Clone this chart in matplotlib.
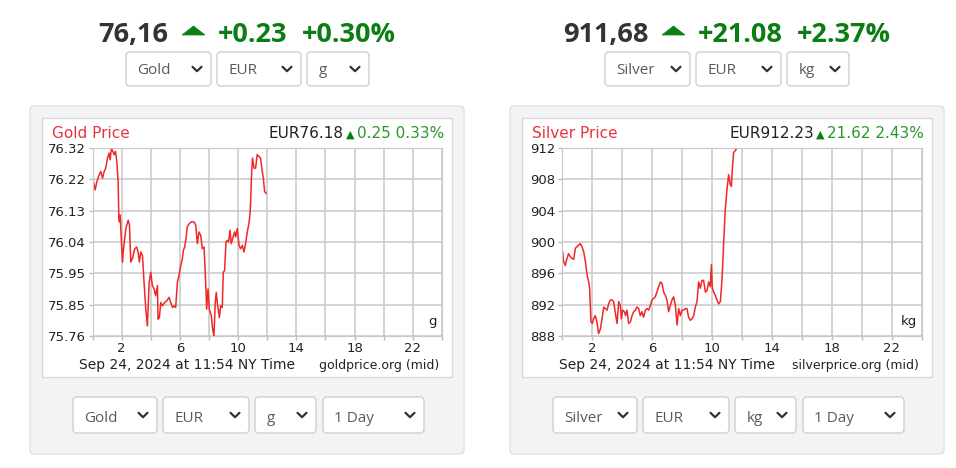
import numpy as np
import matplotlib
matplotlib.use("Agg")
import matplotlib.pyplot as plt
from matplotlib.patches import FancyBboxPatch, Rectangle, Polygon

# --- data ---
gold_hours = [0.07, 0.18, 0.30, 0.46, 0.57, 0.69, 0.80, 0.91, 1.03, 1.14, 1.21, 1.30, 1.39, 1.49,
              1.58, 1.67, 1.76, 1.81, 1.85, 1.90, 1.99, 2.06, 2.13, 2.29, 2.45, 2.54, 2.63, 2.74,
              2.90, 3.04, 3.13, 3.22, 3.31, 3.43, 3.54, 3.66, 3.77, 3.89, 4.00, 4.11, 4.23, 4.34,
              4.46, 4.50, 4.59, 4.69, 4.80, 4.96, 5.10, 5.26, 5.37, 5.49, 5.60, 5.71, 5.83, 5.94,
              6.06, 6.17, 6.24, 6.33, 6.42, 6.51, 6.65, 6.79, 6.97, 7.09, 7.20, 7.31, 7.43, 7.54,
              7.66, 7.77, 7.84, 7.93, 8.02, 8.16, 8.25, 8.34, 8.43, 8.50, 8.57, 8.71, 8.80, 8.91,
              8.98, 9.07, 9.17, 9.26, 9.35, 9.44, 9.53, 9.62, 9.76, 9.83, 9.94, 10.06, 10.17, 10.29,
              10.40, 10.51, 10.63, 10.74, 10.81, 10.86, 10.93, 10.99, 11.09, 11.20, 11.31, 11.43,
              11.54, 11.66, 11.73, 11.82, 11.93]
gold_prices = [76.22, 76.195, 76.22, 76.24, 76.25, 76.23, 76.25, 76.26, 76.29, 76.305, 76.285, 76.32,
               76.31, 76.30, 76.31, 76.28, 76.22, 76.11, 76.10, 76.12, 76.04, 75.98, 76.02, 76.08,
               76.105, 76.09, 75.98, 75.99, 76.02, 76.025, 76.01, 75.98, 76.01, 76.00, 75.92, 75.84,
               75.79, 75.92, 75.95, 75.91, 75.90, 75.88, 75.91, 75.81, 75.815, 75.86, 75.85, 75.86,
               75.865, 75.875, 75.86, 75.845, 75.85, 75.845, 75.92, 75.94, 75.97, 75.99, 76.015,
               76.025, 76.05, 76.085, 76.095, 76.10, 76.10, 76.09, 76.035, 76.07, 76.06, 76.02,
               76.025, 75.92, 75.84, 75.90, 75.84, 75.82, 75.78, 75.76, 75.86, 75.89, 75.86, 75.815,
               75.85, 75.845, 75.95, 75.955, 76.04, 76.045, 76.04, 76.075, 76.035, 76.05, 76.07,
               76.055, 76.08, 76.03, 76.02, 76.03, 76.01, 76.035, 76.07, 76.095, 76.12, 76.16, 76.25,
               76.29, 76.26, 76.26, 76.30, 76.295, 76.29, 76.25, 76.23, 76.19, 76.185]

silver_hours = [0.04, 0.11, 0.22, 0.33, 0.44, 0.56, 0.67, 0.78, 0.89, 1.00, 1.11, 1.22, 1.33, 1.44,
                1.56, 1.67, 1.78, 1.84, 1.93, 2.02, 2.11, 2.22, 2.33, 2.44, 2.56, 2.67, 2.78, 2.89,
                3.00, 3.11, 3.22, 3.33, 3.44, 3.56, 3.67, 3.78, 3.89, 3.96, 4.04, 4.16, 4.24, 4.33,
                4.44, 4.56, 4.67, 4.78, 4.89, 5.00, 5.11, 5.22, 5.33, 5.44, 5.56, 5.67, 5.78, 5.89,
                6.00, 6.11, 6.22, 6.33, 6.44, 6.56, 6.67, 6.78, 6.89, 7.00, 7.11, 7.22, 7.33, 7.44,
                7.56, 7.67, 7.78, 7.89, 8.00, 8.11, 8.22, 8.33, 8.44, 8.56, 8.67, 8.78, 8.89, 9.00,
                9.11, 9.22, 9.33, 9.44, 9.56, 9.67, 9.78, 9.89, 9.96, 10.02, 10.11, 10.22, 10.33,
                10.44, 10.56, 10.67, 10.78, 10.89, 11.00, 11.11, 11.22, 11.29, 11.36, 11.44, 11.56,
                11.67, 11.78]
silver_prices = [898.8, 897.5, 897.0, 897.9, 898.5, 898.1, 897.9, 897.8, 899.2, 899.4, 899.6, 899.8,
                 899.4, 898.8, 897.5, 895.8, 894.9, 894.1, 889.8, 889.6, 890.2, 890.6, 889.8, 888.3,
                 888.9, 890.2, 891.7, 891.5, 891.3, 892.1, 892.6, 892.6, 892.4, 890.9, 889.6, 892.4,
                 891.9, 890.2, 891.3, 891.1, 890.6, 891.3, 889.6, 889.8, 890.6, 891.1, 891.3, 891.7,
                 891.5, 890.6, 891.1, 890.4, 891.3, 891.5, 891.3, 891.9, 892.6, 892.8, 893.0, 893.6,
                 894.3, 894.9, 894.7, 893.6, 893.2, 892.6, 891.1, 891.9, 892.6, 893.0, 891.9, 889.4,
                 891.5, 890.6, 891.3, 891.3, 891.5, 891.5, 890.4, 890.0, 890.2, 890.6, 891.7, 892.4,
                 894.9, 894.1, 895.1, 895.1, 893.6, 893.8, 894.9, 894.3, 897.1, 894.1, 893.6, 893.2,
                 892.6, 892.1, 892.4, 895.3, 900.0, 904.3, 906.7, 908.6, 907.3, 907.1, 909.4, 911.4,
                 911.7, 912.0, 912.1]

gold_yticks = ["76.32", "76.22", "76.13", "76.04", "75.95", "75.85", "75.76"]
silver_yticks = ["912", "908", "904", "900", "896", "892", "888"]
x_ticklabels = ["", "2", "", "6", "", "10", "", "14", "", "18", "", "22", ""]

gold_header = ["76,16", "+0.23", "+0.30%"]
silver_header = ["911,68", "+21.08", "+2.37%"]
gold_chart_head = ["EUR76.18", "0.25 0.33%"]
silver_chart_head = ["EUR912.23", "21.62 2.43%"]
gold_top_select = ["Gold", "EUR", "g"]
silver_top_select = ["Silver", "EUR", "kg"]
gold_bottom_select = ["Gold", "EUR", "g", "1 Day"]
silver_bottom_select = ["Silver", "EUR", "kg", "1 Day"]

W, H = 956, 468
GREEN = "#0b7d12"
RED = "#f02828"

fig = plt.figure(figsize=(W / 100, H / 100), dpi=100)
bg = fig.add_axes([0, 0, 1, 1])
bg.set_xlim(0, W)
bg.set_ylim(H, 0)
bg.axis("off")


def px_axes(l, t, r, b):
    return fig.add_axes([l / W, 1 - b / H, (r - l) / W, (b - t) / H])


def select_box(x0, x1, y0, y1, label):
    bg.add_patch(FancyBboxPatch((x0, y0), x1 - x0, y1 - y0,
                                boxstyle="round,pad=0,rounding_size=4",
                                fc="white", ec="#cfcfcf", lw=1))
    bg.text(x0 + 11.5, y1 - 11.5, label, fontsize=11, family="Open Sans",
            color="#5a5a5a", ha="left", va="baseline")
    cx, cy = x1 - 14, (y0 + y1) / 2
    bg.plot([cx - 4.5, cx, cx + 4.5], [cy - 2.2, cy + 2.2, cy - 2.2],
            color="#333333", lw=1.6, solid_capstyle="round")


def header(xs, tri, texts):
    bg.text(xs[0], 42, texts[0], fontsize=19.5, family="Open Sans", weight="bold",
            color="#333333", ha="left", va="baseline")
    bg.add_patch(Polygon([(tri[0], 35), (tri[1], 35), ((tri[0] + tri[1]) / 2, 26)],
                         closed=True, fc=GREEN, ec=GREEN, lw=0.5))
    bg.text(xs[1], 42, texts[1], fontsize=19.5, family="Open Sans", weight="bold",
            color=GREEN, ha="left", va="baseline")
    bg.text(xs[2], 42, texts[2], fontsize=19.5, family="Open Sans", weight="bold",
            color=GREEN, ha="left", va="baseline")


def panel(off, plot_left, title, head, hours, prices, ylabels, unit, site):
    # grey card and white chart frame
    bg.add_patch(FancyBboxPatch((30 + off, 106), 434, 348,
                                boxstyle="round,pad=0,rounding_size=4",
                                fc="#f3f3f3", ec="#e2e2e2", lw=1))
    bg.add_patch(Rectangle((42 + off, 118), 410, 259, fc="white", ec="#d8d8d8", lw=1))

    bg.text(52 + off, 138, title, fontsize=11, color="#e8343c", ha="left", va="baseline")
    t2 = bg.text(444 + off, 138, head[1], fontsize=11, color="#2a962a",
                 ha="right", va="baseline")
    fig.canvas.draw()
    x_start = t2.get_window_extent().x0
    bg.text(x_start - 7, H - 138, "\u25b2", fontsize=8, color=GREEN,
            ha="center", va="baseline", transform=None)
    bg.text(x_start - 13, H - 138, head[0], fontsize=11, color="#222222",
            ha="right", va="baseline", transform=None)

    ax = px_axes(plot_left + off, 148, 442 + off, 336)
    ax.plot(hours, prices, color=RED, lw=1.1, clip_on=True)
    lo = float(ylabels[-1])
    hi = float(ylabels[0])
    ax.set_ylim(lo, hi)
    ax.set_xlim(0, 24)
    ax.set_yticks(np.linspace(hi, lo, len(ylabels)))
    ax.set_yticklabels(ylabels)
    ax.set_xticks(np.arange(0, 25, 2))
    ax.set_xticklabels(x_ticklabels)
    ax.grid(True, color="#c8c8c8", lw=1.1)
    ax.tick_params(colors="#bbbbbb", labelcolor="#222222", labelsize=9.5,
                   length=3, width=1, pad=2)
    ax.tick_params(axis="x", pad=1)
    for s in ax.spines.values():
        s.set_color("#c8c8c8")
    ax.text(0.985, 0.04, unit, transform=ax.transAxes, fontsize=9.5, color="#222222",
            ha="right", va="bottom")

    bg.text(79 + off, 369, "Sep 24, 2024 at 11:54 NY Time", fontsize=10,
            color="#222222", ha="left", va="baseline")
    bg.text(439 + off, 369, site, fontsize=9, color="#222222", ha="right", va="baseline")


# headers and top selects
header([98, 218, 302], (182, 205), gold_header)
header([563, 698, 797], (662, 685), silver_header)
for (x0, x1), lab in zip([(126, 211), (217, 301), (307, 369)], gold_top_select):
    select_box(x0, x1, 52, 86, lab)
for (x0, x1), lab in zip([(605, 690), (696, 781), (787, 849)], silver_top_select):
    select_box(x0, x1, 52, 86, lab)

panel(0, 92.5, "Gold Price", gold_chart_head, gold_hours, gold_prices,
      gold_yticks, "g", "goldprice.org (mid)")
panel(480, 82, "Silver Price", silver_chart_head, silver_hours, silver_prices,
      silver_yticks, "kg", "silverprice.org (mid)")

for (x0, x1), lab in zip([(73, 157), (163, 249), (255, 316), (323, 424)], gold_bottom_select):
    select_box(x0, x1, 397, 433, lab)
for (x0, x1), lab in zip([(553, 637), (643, 729), (735, 796), (803, 904)], silver_bottom_select):
    select_box(x0, x1, 397, 433, lab)

fig.savefig("out.png", dpi=100, facecolor="white")
